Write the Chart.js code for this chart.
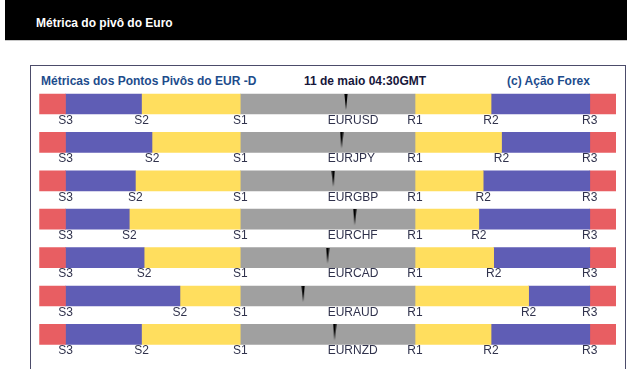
<!DOCTYPE html>
<html>
<head>
<meta charset="utf-8">
<script src="https://cdn.jsdelivr.net/npm/chart.js@4"></script>
<style>
    body { margin: 0; width: 627px; height: 377px; overflow: hidden; background: #fff; font-family: "Liberation Sans", Arial, sans-serif; }
    #topo { position: absolute; left: 5px; top: 0; width: 622px; height: 40px; background: #000; border-bottom: 1px solid #c8c8c8; }
    #topo span { position: absolute; left: 31px; top: 16px; color: #fff; font-weight: bold; font-size: 12px; line-height: 14px; }
    #quadro { position: absolute; left: 30px; top: 65px; width: 594px; height: 303px; border: 1px solid #4c4c6a; border-bottom: none; }
    .titulo { position: absolute; top: 74px; font-size: 12px; line-height: 14px; font-weight: bold; white-space: nowrap; }
    #grafico-wrap { position: absolute; left: 0; top: 0; width: 627px; height: 377px; }
</style>
</head>
<body>
<div id="topo"><span>Métrica do pivô do Euro</span></div>
<div id="quadro"></div>
<div class="titulo" style="left:41px; color:#1d4c8c;">Métricas dos Pontos Pivôs do EUR -D</div>
<div class="titulo" style="left:304px; color:#16163a;">11 de maio 04:30GMT</div>
<div class="titulo" style="left:507px; color:#1d4c8c;">(c) Ação Forex</div>
<div id="grafico-wrap"><canvas id="grafico-pivos" width="627" height="377"></canvas></div>

<script>
// Pares e níveis (unidades relativas ao pivô: S1 = -1, R1 = +1, S3 = -3, R3 = +3)
const pares = ['EURUSD', 'EURJPY', 'EURGBP', 'EURCHF', 'EURCAD', 'EURAUD', 'EURNZD'];
const nivelS2 = [-2.13, -2.01, -2.20, -2.27, -2.10, -1.69, -2.13];
const nivelR2 = [1.87, 1.99, 1.78, 1.73, 1.90, 2.30, 1.87];
const precoAtual = [0.21, 0.16, 0.065, 0.31, 0.0, -0.28, 0.08];

const S3 = -3, S1 = -1, R1 = 1, R3 = 3;
const borda = 3.3; // fim da faixa vermelha

const vermelho = '#e85e62';
const azul = '#5f5db5';
const amarelo = '#ffde5e';
const cinza = '#a0a0a0';

// Marcador do preço: cunha preta fina
function criarMarcador() {
    const c = document.createElement('canvas');
    c.width = 4;
    c.height = 20;
    const g = c.getContext('2d');
    g.fillStyle = '#000';
    g.beginPath();
    g.moveTo(0.4, 0);
    g.lineTo(3.6, 0);
    g.lineTo(2, 16);
    g.closePath();
    g.fill();
    return c;
}

function faixa(label, cor, inicio, fim) {
    return {
        type: 'bar',
        label: label,
        data: pares.map((p, i) => [inicio(i), fim(i)]),
        backgroundColor: cor,
        borderWidth: 0,
        grouped: false,
        barThickness: 20
    };
}

// Rótulos S3..R3 abaixo de cada barra
const rotulosPlugin = {
    id: 'rotulos',
    afterDatasetsDraw(chart) {
        const ctx = chart.ctx;
        const x = chart.scales.x;
        const y = chart.scales.y;
        ctx.save();
        ctx.font = '12px "Liberation Sans", Arial, sans-serif';
        ctx.fillStyle = '#30324c';
        ctx.textBaseline = 'top';
        pares.forEach((par, i) => {
            const topo = y.getPixelForValue(i) + 10.5;
            ctx.textAlign = 'center';
            ctx.fillText('S3', x.getPixelForValue(S3), topo);
            ctx.fillText('S2', x.getPixelForValue(nivelS2[i]), topo);
            ctx.fillText('S1', x.getPixelForValue(S1), topo);
            ctx.fillText('R1', x.getPixelForValue(R1), topo);
            ctx.fillText('R2', x.getPixelForValue(nivelR2[i]), topo);
            ctx.fillText('R3', x.getPixelForValue(R3), topo);
            ctx.textAlign = 'left';
            ctx.fillText(par, x.getPixelForValue(0), topo);
        });
        ctx.restore();
    }
};

const ctx = document.getElementById('grafico-pivos').getContext('2d');
const marcador = criarMarcador();

new Chart(ctx, {
    data: {
        labels: pares,
        datasets: [
            {
                type: 'scatter',
                label: 'Preço',
                data: pares.map((p, i) => ({ x: precoAtual[i], y: p })),
                pointStyle: marcador,
                pointRadius: 10,
                order: -1
            },
            faixa('S3-', vermelho, () => -borda, () => S3),
            faixa('S3-S2', azul, () => S3, i => nivelS2[i]),
            faixa('S2-S1', amarelo, i => nivelS2[i], () => S1),
            faixa('S1-R1', cinza, () => S1, () => R1),
            faixa('R1-R2', amarelo, () => R1, i => nivelR2[i]),
            faixa('R2-R3', azul, i => nivelR2[i], () => R3),
            faixa('R3+', vermelho, () => R3, () => borda)
        ]
    },
    options: {
        indexAxis: 'y',
        responsive: false,
        animation: false,
        layout: {
            padding: { left: 39.25, right: 10.25, top: 84.8, bottom: 23.4 }
        },
        plugins: {
            legend: { display: false },
            tooltip: { enabled: false }
        },
        scales: {
            x: { type: 'linear', min: -borda, max: borda, display: false },
            y: { type: 'category', display: false, offset: true }
        }
    },
    plugins: [rotulosPlugin]
});
</script>
</body>
</html>
